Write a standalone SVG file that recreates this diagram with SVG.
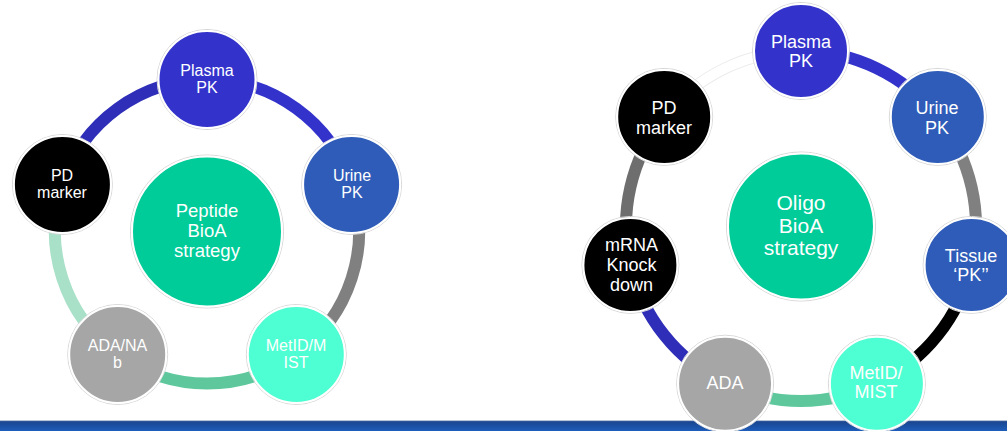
<svg xmlns="http://www.w3.org/2000/svg" width="1007" height="431" viewBox="0 0 1007 431">
<defs>
<linearGradient id="bar" x1="0" y1="0" x2="0" y2="1">
<stop offset="0" stop-color="#6f87b3"/>
<stop offset="0.12" stop-color="#1a4690"/>
<stop offset="1" stop-color="#1d5dba"/>
</linearGradient>
</defs>
<style>
.arc{fill:none;stroke-width:12}
.halo{fill:none;stroke:#d6d6d6;stroke-width:1}
.node{stroke:#ffffff;stroke-width:2}
.t{font-family:"Liberation Sans",Arial,sans-serif;fill:#ffffff;text-anchor:middle}
.ls{font-size:16px}
.lc{font-size:18.5px}
.rs{font-size:18px}
.rc{font-size:21px}
</style>
<rect width="1007" height="431" fill="#ffffff"/>
<rect x="0" y="420.5" width="1007" height="10.5" fill="url(#bar)"/>

<g id="connectors">
<!-- left ring: center (207,231.5) R=152 -->
<path class="arc" stroke="#2e2eb8" d="M62.4 184.5 A152 152 0 0 1 207 79.5"/>
<path class="arc" stroke="#3333cc" d="M207 79.5 A152 152 0 0 1 351.6 184.5"/>
<path class="arc" stroke="#808080" d="M351.6 184.5 A152 152 0 0 1 296.3 354.5"/>
<path class="arc" stroke="#5ec89c" d="M296.3 354.5 A152 152 0 0 1 117.7 354.5"/>
<path class="arc" stroke="#a8e0c8" d="M117.7 354.5 A152 152 0 0 1 62.4 184.5"/>
<!-- right ring: center (801,226) R=175 -->
<path class="arc" stroke="#3333cc" d="M801 51 A175 175 0 0 1 937.8 116.9"/>
<path class="arc" stroke="#808080" d="M937.8 116.9 A175 175 0 0 1 971.6 264.9"/>
<path class="arc" stroke="#000000" d="M971.6 264.9 A175 175 0 0 1 876.9 383.7"/>
<path class="arc" stroke="#5ec89c" d="M876.9 383.7 A175 175 0 0 1 725.1 383.7"/>
<path class="arc" stroke="#2e2eb8" d="M725.1 383.7 A175 175 0 0 1 630.4 264.9"/>
<path class="arc" stroke="#6e6e6e" d="M630.4 264.9 A175 175 0 0 1 664.2 116.9"/>
<path class="arc" stroke="#ececec" d="M664.2 116.9 A175 175 0 0 1 801 51"/>
<path fill="none" stroke="#ffffff" stroke-width="10" d="M664.2 116.9 A175 175 0 0 1 801 51"/>
</g>

<!-- LEFT DIAGRAM -->
<g id="peptide-center">
<circle cx="207" cy="231.5" r="76.5" class="halo"/>
<circle cx="207" cy="231.5" r="75" fill="#00cc99" class="node"/>
<text class="t lc" x="207" y="217">Peptide</text>
<text class="t lc" x="207" y="237">BioA</text>
<text class="t lc" x="207" y="257">strategy</text>
</g>
<g id="l-plasma">
<circle cx="207" cy="79.5" r="50" class="halo"/>
<circle cx="207" cy="79.5" r="48.5" fill="#3333cc" class="node"/>
<text class="t ls" x="207" y="76">Plasma</text>
<text class="t ls" x="207" y="93">PK</text>
</g>
<g id="l-urine">
<circle cx="351.6" cy="184.5" r="50" class="halo"/>
<circle cx="351.6" cy="184.5" r="48.5" fill="#2e5cb8" class="node"/>
<text class="t ls" x="352" y="181">Urine</text>
<text class="t ls" x="352" y="198">PK</text>
</g>
<g id="l-metid">
<circle cx="296.3" cy="354.5" r="50" class="halo"/>
<circle cx="296.3" cy="354.5" r="48.5" fill="#4dffd2" class="node"/>
<text class="t ls" x="296" y="351">MetID/M</text>
<text class="t ls" x="296" y="368">IST</text>
</g>
<g id="l-ada">
<circle cx="117.7" cy="354.5" r="50" class="halo"/>
<circle cx="117.7" cy="354.5" r="48.5" fill="#a6a6a6" class="node"/>
<text class="t ls" x="117.5" y="351">ADA/NA</text>
<text class="t ls" x="117.5" y="368">b</text>
</g>
<g id="l-pd">
<circle cx="62.4" cy="184.5" r="50" class="halo"/>
<circle cx="62.4" cy="184.5" r="48.5" fill="#000000" class="node"/>
<text class="t ls" x="62" y="181">PD</text>
<text class="t ls" x="62" y="198">marker</text>
</g>

<!-- RIGHT DIAGRAM -->
<g id="oligo-center">
<circle cx="801" cy="226.5" r="74.5" class="halo"/>
<circle cx="801" cy="226.5" r="73" fill="#00cc99" class="node"/>
<text class="t rc" x="801" y="210">Oligo</text>
<text class="t rc" x="801" y="233">BioA</text>
<text class="t rc" x="801" y="255">strategy</text>
</g>
<g id="r-plasma">
<circle cx="801" cy="51" r="48.5" class="halo"/>
<circle cx="801" cy="51" r="47" fill="#3333cc" class="node"/>
<text class="t rs" x="801" y="48">Plasma</text>
<text class="t rs" x="801" y="67">PK</text>
</g>
<g id="r-urine">
<circle cx="937.8" cy="116.9" r="48.5" class="halo"/>
<circle cx="937.8" cy="116.9" r="47" fill="#2e5cb8" class="node"/>
<text class="t rs" x="937" y="114">Urine</text>
<text class="t rs" x="937" y="133.5">PK</text>
</g>
<g id="r-tissue">
<circle cx="971.6" cy="264.9" r="48.5" class="halo"/>
<circle cx="971.6" cy="264.9" r="47" fill="#2e5cb8" class="node"/>
<text class="t rs" x="971" y="262">Tissue</text>
<text class="t rs" x="971" y="280.5">‘PK’’</text>
</g>
<g id="r-metid">
<circle cx="876.9" cy="383.7" r="48.5" class="halo"/>
<circle cx="876.9" cy="383.7" r="47" fill="#4dffd2" class="node"/>
<text class="t rs" x="876" y="379">MetID/</text>
<text class="t rs" x="876" y="398">MIST</text>
</g>
<g id="r-ada">
<circle cx="725.1" cy="383.7" r="48.5" class="halo"/>
<circle cx="725.1" cy="383.7" r="47" fill="#a6a6a6" class="node"/>
<text class="t rs" x="725" y="389">ADA</text>
</g>
<g id="r-mrna">
<circle cx="630.4" cy="264.9" r="48.5" class="halo"/>
<circle cx="630.4" cy="264.9" r="47" fill="#000000" class="node"/>
<text class="t rs" x="631.5" y="251">mRNA</text>
<text class="t rs" x="631.5" y="271">Knock</text>
<text class="t rs" x="631.5" y="290.5">down</text>
</g>
<g id="r-pd">
<circle cx="664.2" cy="116.9" r="48.5" class="halo"/>
<circle cx="664.2" cy="116.9" r="47" fill="#000000" class="node"/>
<text class="t rs" x="664" y="114">PD</text>
<text class="t rs" x="664" y="133.5">marker</text>
</g>
</svg>
